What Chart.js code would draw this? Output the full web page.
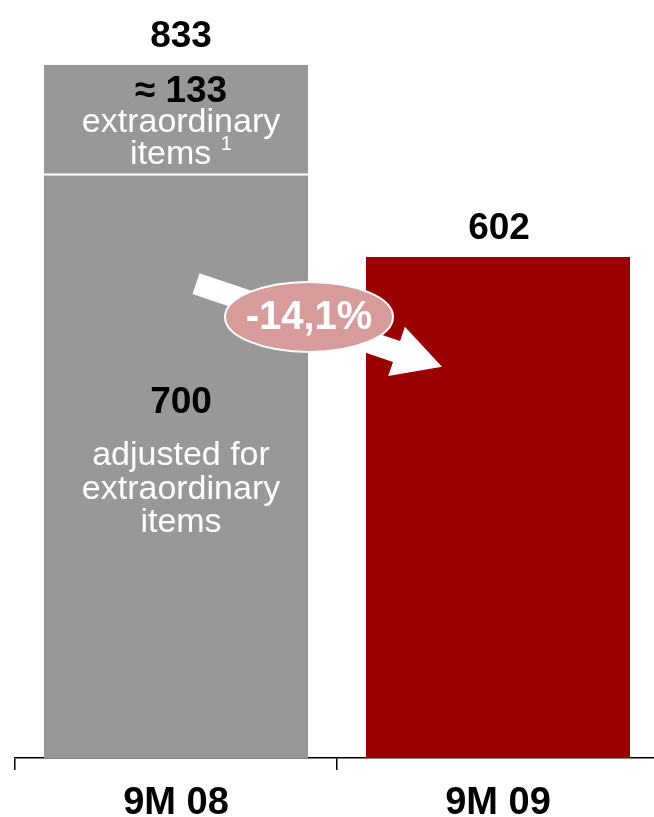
<!DOCTYPE html>
<html>
<head>
<meta charset="utf-8">
<script src="https://cdn.jsdelivr.net/npm/chart.js@4/dist/chart.umd.min.js"></script>
<style>
  html, body { margin: 0; padding: 0; background: #fff; overflow: hidden; }
  #wrap { position: relative; width: 664px; height: 839px; }
</style>
</head>
<body>
<div id="wrap"><canvas id="c"></canvas></div>
<script>
// ---- data ----
const categories = ["9M 08", "9M 09"];
const adjustedValues = [700, 602];
const extraordinaryValues = [133, null];
const totalValues = [833, 602];
const changeLabel = "-14,1%";

const GRAY = "#989898";
const RED = "#9b0000";
const FONT = "'Liberation Sans', Arial, Helvetica, sans-serif";

const labelsPlugin = {
  id: 'labels',
  afterDatasetsDraw(chart) {
    const ctx = chart.ctx;
    const x = chart.scales.x, y = chart.scales.y;
    const x0 = x.getPixelForValue(0) + 5;
    const x1 = x.getPixelForValue(1) + 1;
    ctx.save();
    ctx.textAlign = 'center';
    ctx.textBaseline = 'alphabetic';

    // totals
    ctx.fillStyle = '#000';
    ctx.font = `bold 37px ${FONT}`;
    ctx.fillText(String(totalValues[0]), x0, y.getPixelForValue(totalValues[0]) - 18);
    ctx.fillText(String(totalValues[1]), x1, y.getPixelForValue(totalValues[1]) - 18);

    // extraordinary segment
    const yTop = y.getPixelForValue(totalValues[0]);
    ctx.font = `bold 37px ${FONT}`;
    ctx.fillText("≈ " + extraordinaryValues[0], x0, yTop + 37);
    ctx.fillStyle = '#fff';
    ctx.font = `34px ${FONT}`;
    ctx.fillText("extraordinary", x0, yTop + 67);
    const itemsW = ctx.measureText("items ").width;
    ctx.font = `20px ${FONT}`;
    const supW = ctx.measureText("1").width;
    const startX = x0 - (itemsW + supW) / 2;
    ctx.textAlign = 'left';
    ctx.font = `34px ${FONT}`;
    ctx.fillText("items ", startX, yTop + 99);
    ctx.font = `20px ${FONT}`;
    ctx.fillText("1", startX + itemsW, yTop + 85);
    ctx.textAlign = 'center';

    // adjusted segment
    const yAdj = y.getPixelForValue(adjustedValues[0]);
    ctx.fillStyle = '#000';
    ctx.font = `bold 37px ${FONT}`;
    ctx.fillText(String(adjustedValues[0]), x0, yAdj + 238);
    ctx.fillStyle = '#fff';
    ctx.font = `34px ${FONT}`;
    ctx.fillText("adjusted for", x0, yAdj + 290);
    ctx.fillText("extraordinary", x0, yAdj + 324);
    ctx.fillText("items", x0, yAdj + 357);

    // arrow
    const tail = { x: x.getPixelForValue(0) + 20, y: y.getPixelForValue(570) };
    const tip = { x: x.getPixelForValue(1) - 56, y: y.getPixelForValue(470) };
    const ang = Math.atan2(tip.y - tail.y, tip.x - tail.x);
    const len = Math.hypot(tip.x - tail.x, tip.y - tail.y);
    ctx.save();
    ctx.translate(tail.x, tail.y);
    ctx.rotate(ang);
    const hw = 11, headL = 48, headW = 26;
    ctx.beginPath();
    ctx.moveTo(0, -hw);
    ctx.lineTo(len - headL, -hw);
    ctx.lineTo(len - headL, -headW);
    ctx.lineTo(len, 0);
    ctx.lineTo(len - headL, headW);
    ctx.lineTo(len - headL, hw);
    ctx.lineTo(0, hw);
    ctx.closePath();
    ctx.fillStyle = '#fff';
    ctx.fill();
    ctx.restore();

    // ellipse with change
    const ex = (x.getPixelForValue(0) + x.getPixelForValue(1)) / 2 - 28;
    const ey = y.getPixelForValue(530);
    ctx.beginPath();
    ctx.ellipse(ex, ey, 84, 35, 0, 0, Math.PI * 2);
    ctx.fillStyle = '#d89b9b';
    ctx.fill();
    ctx.lineWidth = 2;
    ctx.strokeStyle = '#fff';
    ctx.stroke();
    ctx.fillStyle = '#fff';
    ctx.font = `bold 40px ${FONT}`;
    ctx.textBaseline = 'middle';
    ctx.fillText(changeLabel, ex, ey + 1);
    ctx.restore();
  }
};

new Chart(document.getElementById('c'), {
  type: 'bar',
  data: {
    labels: categories,
    datasets: [
      {
        label: 'adjusted',
        data: adjustedValues,
        backgroundColor: [GRAY, RED],
        borderWidth: 0,
        barPercentage: 1,
        categoryPercentage: 0.82
      },
      {
        label: 'extraordinary',
        data: extraordinaryValues,
        backgroundColor: GRAY,
        borderColor: '#fff',
        borderWidth: { top: 0, left: 0, right: 0, bottom: 2 },
        borderSkipped: false,
        barPercentage: 1,
        categoryPercentage: 0.82
      }
    ]
  },
  options: {
    responsive: true,
    maintainAspectRatio: false,
    animation: false,
    devicePixelRatio: 1,
    layout: { padding: { left: 15, right: 5, top: 9, bottom: 1 } },
    plugins: { legend: { display: false }, tooltip: { enabled: false } },
    scales: {
      x: {
        stacked: true,
        grid: { display: true, drawOnChartArea: false, drawTicks: true, tickLength: 12, color: '#000', lineWidth: 1.5, offset: true },
        border: { display: true, color: '#000', width: 1.5 },
        ticks: { color: '#000', padding: 15, font: { family: FONT, size: 38, weight: 'bold', lineHeight: 1 } }
      },
      y: {
        stacked: true,
        display: false,
        min: 0,
        max: 900
      }
    }
  },
  plugins: [labelsPlugin]
});
</script>
</body>
</html>
